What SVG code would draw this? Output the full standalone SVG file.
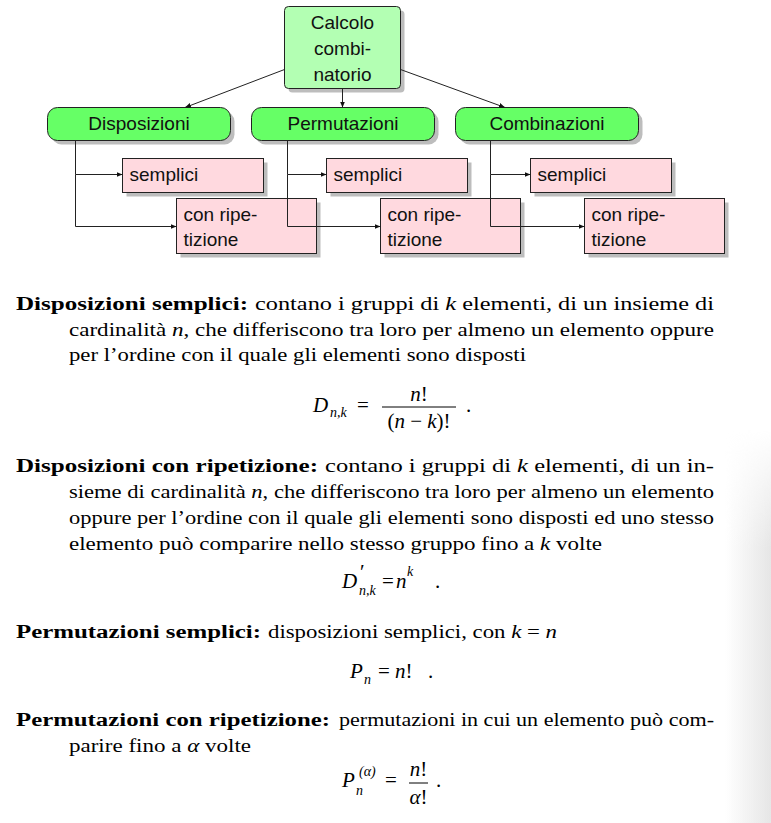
<svg xmlns="http://www.w3.org/2000/svg" width="771" height="823" viewBox="0 0 771 823">
<defs>
<style>
.shadow{fill:#bdbdbd;stroke:none}
.root{fill:#b3ffb3;stroke:#222;stroke-width:1}
.cat{fill:#66ff66;stroke:#222;stroke-width:1}
.leaf{fill:#ffd9df;stroke:#222;stroke-width:1}
.nt{font-family:"Liberation Sans",Arial,sans-serif;font-size:19px;fill:#111}
.conn{fill:none;stroke:#222;stroke-width:1}
.body{font-family:"Liberation Serif","Times New Roman",serif;font-size:18.5px;fill:#000}
.bold{font-weight:bold}
.mi{font-style:italic}
.math{font-family:"Liberation Serif","Times New Roman",serif;font-size:21px;fill:#000}
.sub{font-family:"Liberation Serif","Times New Roman",serif;font-size:14px;fill:#000;font-style:italic}
</style>
<marker id="arr" viewBox="0 0 6 5" refX="6" refY="2.5" markerWidth="6" markerHeight="5" markerUnits="userSpaceOnUse" orient="auto">
<path d="M0,0 L6,2.5 L0,5 Z" fill="#111"/>
</marker>
<linearGradient id="edgeH" x1="0" y1="0" x2="1" y2="0">
<stop offset="0" stop-color="#e6e6e6" stop-opacity="0"/>
<stop offset="1" stop-color="#e6e6e6" stop-opacity="1"/>
</linearGradient>
<linearGradient id="edgeV" x1="0" y1="0" x2="0" y2="1">
<stop offset="0" stop-color="#fff" stop-opacity="0"/>
<stop offset="0.3" stop-color="#fff" stop-opacity="1"/>
<stop offset="1" stop-color="#fff" stop-opacity="1"/>
</linearGradient>
<mask id="edgeMask">
<rect x="725" y="430" width="46" height="393" fill="url(#edgeV)"/>
</mask>
</defs>
<rect width="771" height="823" fill="#fff"/>
<rect x="725" y="430" width="46" height="393" fill="url(#edgeH)" mask="url(#edgeMask)"/>

<g id="calcolo">
<rect class="shadow" x="288.5" y="10.5" width="116" height="82" rx="4"/>
<rect class="root" x="284.5" y="6.5" width="116" height="82" rx="4"/>
<text class="nt" x="342.5" y="28.5" text-anchor="middle">Calcolo</text>
<text class="nt" x="342.5" y="55" text-anchor="middle">combi-</text>
<text class="nt" x="342.5" y="81" text-anchor="middle">natorio</text>
</g>

<g id="disposizioni">
<rect class="shadow" x="51.5" y="111.5" width="183" height="33" rx="10"/>
<rect class="cat" x="47.5" y="107.5" width="183" height="33" rx="10"/>
<text class="nt" x="139" y="130" text-anchor="middle">Disposizioni</text>
</g>
<g id="permutazioni">
<rect class="shadow" x="255.5" y="111.5" width="183" height="33" rx="10"/>
<rect class="cat" x="251.5" y="107.5" width="183" height="33" rx="10"/>
<text class="nt" x="343" y="130" text-anchor="middle">Permutazioni</text>
</g>
<g id="combinazioni">
<rect class="shadow" x="459.5" y="111.5" width="183" height="33" rx="10"/>
<rect class="cat" x="455.5" y="107.5" width="183" height="33" rx="10"/>
<text class="nt" x="547" y="130" text-anchor="middle">Combinazioni</text>
</g>

<g id="disp-semplici">
<rect class="shadow" x="126.5" y="162.5" width="141" height="34"/>
<rect class="leaf" x="122.5" y="158.5" width="141" height="34"/>
<text class="nt" x="129.5" y="180.5">semplici</text>
</g>
<g id="disp-ripetizione">
<rect class="shadow" x="180.5" y="202.5" width="140" height="55"/>
<rect class="leaf" x="176.5" y="198.5" width="140" height="55"/>
<text class="nt" x="183.5" y="220.5">con ripe-</text>
<text class="nt" x="183.5" y="246">tizione</text>
</g>
<g id="perm-semplici">
<rect class="shadow" x="330.5" y="162.5" width="141" height="34"/>
<rect class="leaf" x="326.5" y="158.5" width="141" height="34"/>
<text class="nt" x="333.5" y="180.5">semplici</text>
</g>
<g id="perm-ripetizione">
<rect class="shadow" x="384.5" y="202.5" width="140" height="55"/>
<rect class="leaf" x="380.5" y="198.5" width="140" height="55"/>
<text class="nt" x="387.5" y="220.5">con ripe-</text>
<text class="nt" x="387.5" y="246">tizione</text>
</g>
<g id="comb-semplici">
<rect class="shadow" x="534.5" y="162.5" width="141" height="34"/>
<rect class="leaf" x="530.5" y="158.5" width="141" height="34"/>
<text class="nt" x="537.5" y="180.5">semplici</text>
</g>
<g id="comb-ripetizione">
<rect class="shadow" x="588.5" y="202.5" width="140" height="55"/>
<rect class="leaf" x="584.5" y="198.5" width="140" height="55"/>
<text class="nt" x="591.5" y="220.5">con ripe-</text>
<text class="nt" x="591.5" y="246">tizione</text>
</g>

<g id="connectors">
<path class="conn" d="M284.5,69.5 L185,107.5" marker-end="url(#arr)"/>
<path class="conn" d="M342.5,88.5 V107.5" marker-end="url(#arr)"/>
<path class="conn" d="M400.5,69.5 L505,107.5" marker-end="url(#arr)"/>
<path class="conn" d="M75.5,140.5 V174.5 H122.5" marker-end="url(#arr)"/>
<path class="conn" d="M75.5,174.5 V226.5 H176.5" marker-end="url(#arr)"/>
<path class="conn" d="M287.5,140.5 V174.5 H326.5" marker-end="url(#arr)"/>
<path class="conn" d="M287.5,174.5 V226.5 H380.5" marker-end="url(#arr)"/>
<path class="conn" d="M490.5,140.5 V174.5 H530.5" marker-end="url(#arr)"/>
<path class="conn" d="M490.5,174.5 V226.5 H584.5" marker-end="url(#arr)"/>
</g>

<g id="disposizioni-semplici">
<text class="body bold" x="16" y="310" textLength="232" lengthAdjust="spacingAndGlyphs">Disposizioni semplici:</text>
<text class="body" x="255" y="310" textLength="459" lengthAdjust="spacingAndGlyphs">contano i gruppi di <tspan class="mi">k</tspan> elementi, di un insieme di</text>
<text class="body" x="69" y="336" textLength="645" lengthAdjust="spacingAndGlyphs">cardinalità <tspan class="mi">n</tspan>, che differiscono tra loro per almeno un elemento oppure</text>
<text class="body" x="69" y="361" textLength="457" lengthAdjust="spacingAndGlyphs">per l’ordine con il quale gli elementi sono disposti</text>
<text class="math mi" x="313" y="412">D</text>
<text class="sub" x="330" y="417">n,k</text>
<text class="math" x="357" y="412">=</text>
<text class="math" x="419" y="401" text-anchor="middle"><tspan class="mi">n</tspan>!</text>
<line x1="382" y1="407" x2="456" y2="407" stroke="#000" stroke-width="1"/>
<text class="math" x="419" y="428" text-anchor="middle">(<tspan class="mi">n</tspan> − <tspan class="mi">k</tspan>)!</text>
<text class="math" x="466" y="412">.</text>
</g>

<g id="disposizioni-ripetizione">
<text class="body bold" x="16" y="472" textLength="302" lengthAdjust="spacingAndGlyphs">Disposizioni con ripetizione:</text>
<text class="body" x="325" y="472" textLength="389" lengthAdjust="spacingAndGlyphs">contano i gruppi di <tspan class="mi">k</tspan> elementi, di un in-</text>
<text class="body" x="69" y="498" textLength="645" lengthAdjust="spacingAndGlyphs">sieme di cardinalità <tspan class="mi">n</tspan>, che differiscono tra loro per almeno un elemento</text>
<text class="body" x="69" y="524" textLength="645" lengthAdjust="spacingAndGlyphs">oppure per l’ordine con il quale gli elementi sono disposti ed uno stesso</text>
<text class="body" x="69" y="550" textLength="533" lengthAdjust="spacingAndGlyphs">elemento può comparire nello stesso gruppo fino a <tspan class="mi">k</tspan> volte</text>
<text class="math mi" x="342" y="588">D</text>
<text class="math" x="360" y="579" font-size="15">′</text>
<text class="sub" x="359" y="595">n,k</text>
<text class="math" x="382" y="588">=</text>
<text class="math mi" x="396" y="588">n</text>
<text class="sub" x="407" y="576">k</text>
<text class="math" x="435" y="588">.</text>
</g>

<g id="permutazioni-semplici">
<text class="body bold" x="16" y="638" textLength="245" lengthAdjust="spacingAndGlyphs">Permutazioni semplici:</text>
<text class="body" x="268" y="638" textLength="289" lengthAdjust="spacingAndGlyphs">disposizioni semplici, con <tspan class="mi">k</tspan> = <tspan class="mi">n</tspan></text>
<text class="math mi" x="350" y="678">P</text>
<text class="sub" x="364" y="684">n</text>
<text class="math" x="378" y="678">=</text>
<text class="math" x="395" y="678"><tspan class="mi">n</tspan>!</text>
<text class="math" x="428" y="678">.</text>
</g>

<g id="permutazioni-ripetizione">
<text class="body bold" x="16" y="726" textLength="314" lengthAdjust="spacingAndGlyphs">Permutazioni con ripetizione:</text>
<text class="body" x="339" y="726" textLength="375" lengthAdjust="spacingAndGlyphs">permutazioni in cui un elemento può com-</text>
<text class="body" x="69" y="752" textLength="182" lengthAdjust="spacingAndGlyphs">parire fino a <tspan class="mi">α</tspan> volte</text>
<text class="math mi" x="342" y="787">P</text>
<text class="sub" x="359" y="776" font-style="normal">(<tspan font-style="italic">α</tspan>)</text>
<text class="sub" x="356" y="795">n</text>
<text class="math" x="385" y="787">=</text>
<text class="math" x="418.5" y="776" text-anchor="middle"><tspan class="mi">n</tspan>!</text>
<line x1="409" y1="783" x2="428" y2="783" stroke="#000" stroke-width="1"/>
<text class="math" x="418.5" y="804" text-anchor="middle"><tspan class="mi">α</tspan>!</text>
<text class="math" x="436" y="787">.</text>
</g>
</svg>
